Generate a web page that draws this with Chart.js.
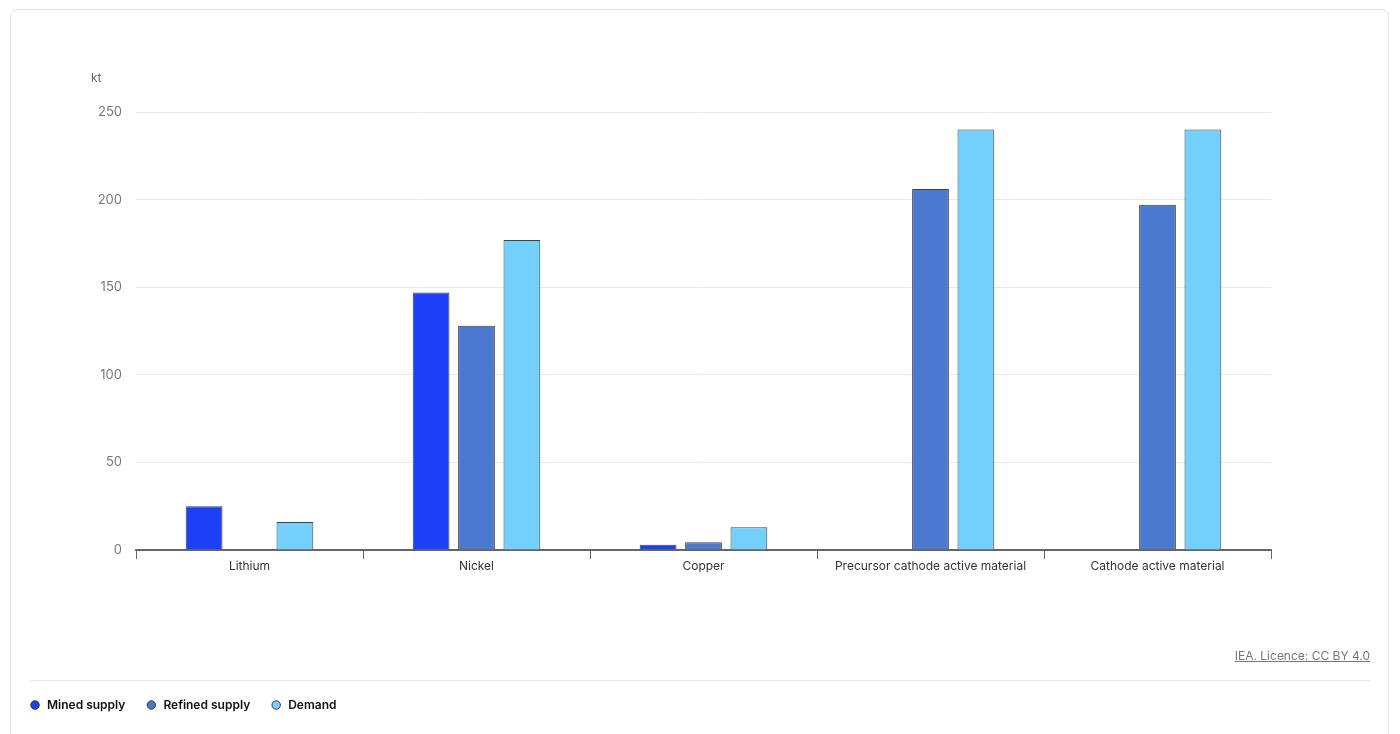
<!DOCTYPE html>
<html>
<head>
<meta charset="utf-8">
<script src="https://cdn.jsdelivr.net/npm/chart.js@4/dist/chart.umd.min.js"></script>
<style>
  html, body { margin: 0; padding: 0; background: #fff; }
  body { width: 1400px; height: 734px; overflow: hidden; position: relative; font-family: Inter, "Noto Sans", sans-serif; }
  .card { position: absolute; left: 10px; top: 9px; width: 1379px; height: 740px; border: 1px solid #e4e4e4; border-radius: 7px; box-sizing: border-box; }
  #chart { position: absolute; left: 0; top: 0; }
  .rule { position: absolute; left: 31px; top: 680px; width: 1339px; height: 1px; background: #e6e6e6; }
  .credit { position: absolute; right: 30px; top: 648px; font-size: 12px; color: #777; text-decoration: underline; }
</style>
</head>
<body>
<div class="card"></div>
<canvas id="chart" width="1400" height="734"></canvas>
<div class="rule"></div>
<div class="credit">IEA. Licence: CC BY 4.0</div>
<script>
// values in kt
const categories = ["Lithium", "Nickel", "Copper", "Precursor cathode active material", "Cathode active material"]
const minedSupply = [25, 147, 3, null, null]
const refinedSupply = [null, 128, 4.4, 206, 197]
const demand = [16, 177, 13, 240, 240]
const yTicks = [0, 50, 100, 150, 200, 250]

const unitLabel = {
  id: "unitLabel",
  afterDraw(chart) {
    const { ctx, chartArea } = chart
    ctx.save()
    ctx.font = "12px Inter"
    ctx.fillStyle = "#666"
    ctx.textBaseline = "middle"
    ctx.fillText("kt", chartArea.left - 45, chartArea.top - 34)
    ctx.restore()
  },
}

const barStyle = { borderWidth: 1, borderColor: "rgba(45,45,45,0.9)", borderSkipped: "start" }

new Chart(document.getElementById("chart"), {
  type: "bar",
  data: {
    labels: categories,
    datasets: [
      { label: "Mined supply", data: minedSupply, backgroundColor: "#1b40f5", ...barStyle },
      { label: "Refined supply", data: refinedSupply, backgroundColor: "#4a79cf", ...barStyle },
      { label: "Demand", data: demand, backgroundColor: "#73d0fa", ...barStyle },
    ],
  },
  options: {
    responsive: false,
    animation: false,
    devicePixelRatio: 1,
    datasets: { bar: { categoryPercentage: 0.6, barPercentage: 0.81 } },
    layout: { padding: { left: 9, right: 129, top: 112, bottom: 13 } },
    plugins: {
      tooltip: { enabled: false },
      legend: {
        position: "bottom",
        align: "start",
        labels: {
          usePointStyle: true,
          pointStyle: "circle",
          boxWidth: 12,
          boxHeight: 6,
          padding: 20,
          color: "#111",
          font: { family: "Inter", size: 12, weight: "600" },
        },
      },
    },
    scales: {
      x: {
        grid: { display: true, offset: true, drawOnChartArea: false, drawTicks: true, tickLength: 9, color: "#666" },
        border: { display: true, color: "#666", width: 2 },
        ticks: { color: "#333", padding: 0, font: { family: "Inter", size: 12 } },
        afterFit: (scale) => { scale.height = 129 },
      },
      y: {
        min: 0,
        max: 250,
        afterBuildTicks: (scale) => { scale.ticks = yTicks.map((v) => ({ value: v })) },
        grid: { color: "#e9e9e9", drawTicks: false },
        border: { display: false },
        ticks: { color: "#777", padding: 14, font: { family: "Inter", size: 13 } },
        afterFit: (scale) => { scale.width = 127 },
      },
    },
  },
  plugins: [unitLabel],
})
</script>
</body>
</html>
